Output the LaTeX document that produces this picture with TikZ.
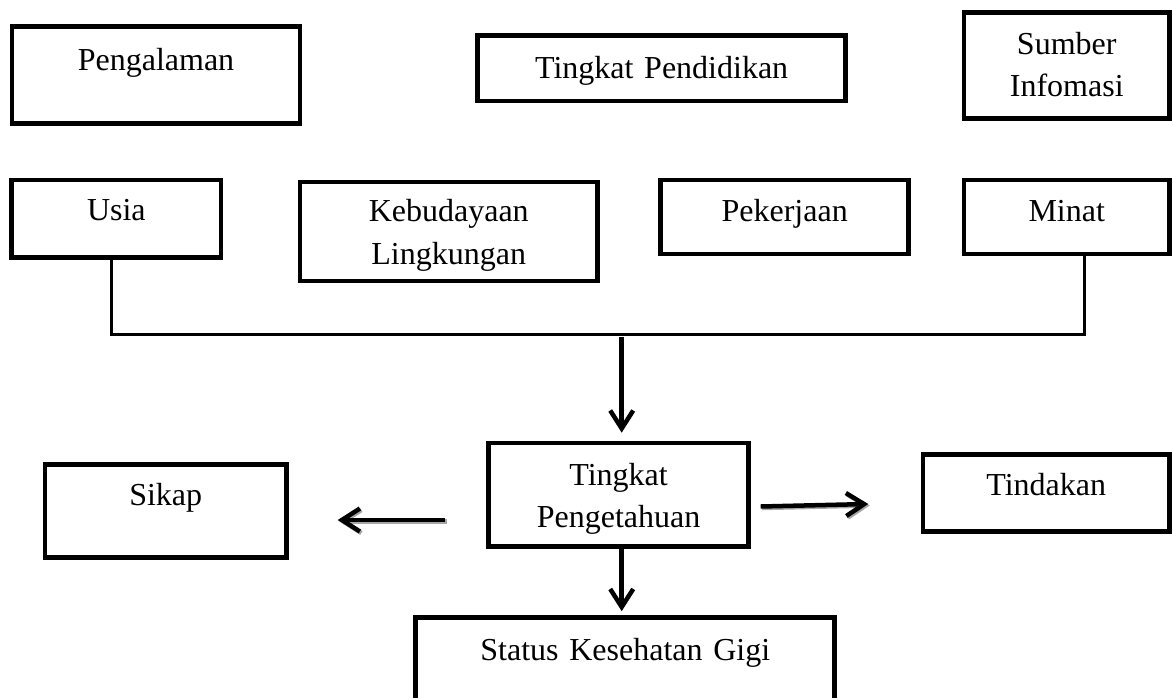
\documentclass[tikz,border=0pt]{standalone}
\usepackage{fontspec}
\setmainfont{Liberation Serif}
\usetikzlibrary{arrows.meta}
\begin{document}
\begin{tikzpicture}[x=1pt,y=-1pt,
  box/.style={draw, line width=4.7pt, inner sep=0pt, align=center, anchor=base,
    font=\fontsize{32pt}{42.5pt}\selectfont},
  conn/.style={line width=3.5pt},
  arr/.style={line width=4.5pt, -{Straight Barb[length=18pt,width=23pt]}},
  shadowarr/.style={line width=4.5pt, draw=black!35, -{Straight Barb[length=18pt,width=23pt]}}
]
\useasboundingbox (0,0) rectangle (1172,697);

\node[box, text width=288pt, text height=44.4pt, text depth=52.6pt] (peng) at (156,70.7) {Pengalaman};
\node[box, text width=368.3pt, text height=42.5pt, text depth=22.7pt] (pend) at (661.65,78.3) {Tingkat Pendidikan};
\node[box, text width=205.5pt, text height=41.5pt, text depth=64.3pt] (sumber) at (1066.75,54) {Sumber\\Infomasi};
\node[box, text width=209.3pt, text height=40.7pt, text depth=36.6pt] (usia) at (116.35,220.7) {Usia};
\node[box, text width=297.5pt, text height=39.7pt, text depth=59.3pt] (budaya) at (448.75,221.7) {Kebudayaan\\Lingkungan};
\node[box, text width=247.7pt, text height=41.7pt, text depth=32.3pt] (kerja) at (784.65,221.7) {Pekerjaan};
\node[box, text width=205.5pt, text height=41.7pt, text depth=32.3pt] (minat) at (1066.75,221.7) {Minat};
\node[box, text width=260.5pt, text height=42pt, text depth=61.8pt] (tp) at (618.55,485) {Tingkat\\Pengetahuan};
\node[box, text width=241.5pt, text height=40.3pt, text depth=52.8pt] (sikap) at (165.75,505) {Sikap};
\node[box, text width=246.5pt, text height=40.3pt, text depth=36.7pt] (tindakan) at (1046.25,495) {Tindakan};
\node[box, text width=419pt, text height=42.5pt, text depth=60pt] (status) at (625.3,660) {Status Kesehatan Gigi};

% collecting line
\draw[conn] ([xshift=-4.65pt]usia.south) -- ++(0,75) -| ([xshift=17.55pt]minat.south);

% arrow into Tingkat Pengetahuan
\coordinate (split) at (621.7,336.7);
\draw[arr, shorten >=8pt] (split) -- (split |- tp.north);

% arrow to Status
\coordinate (d1) at ([xshift=3.15pt]tp.south);
\draw[arr, shorten >=4pt] (d1) -- (d1 |- status.north);

% arrow to Sikap
\coordinate (la) at (445,520);
\coordinate (lb) at (337.7,520);
\draw[shadowarr] ([shift={(1.5,1.5)}]la) -- ([shift={(1.5,1.5)}]lb);
\draw[arr] (la) -- (lb);

% arrow to Tindakan
\coordinate (ra) at (760.7,506.5);
\coordinate (rb) at (868.3,504);
\draw[shadowarr] ([shift={(1.5,1.5)}]ra) -- ([shift={(1.5,1.5)}]rb);
\draw[arr] (ra) -- (rb);
\end{tikzpicture}
\end{document}
